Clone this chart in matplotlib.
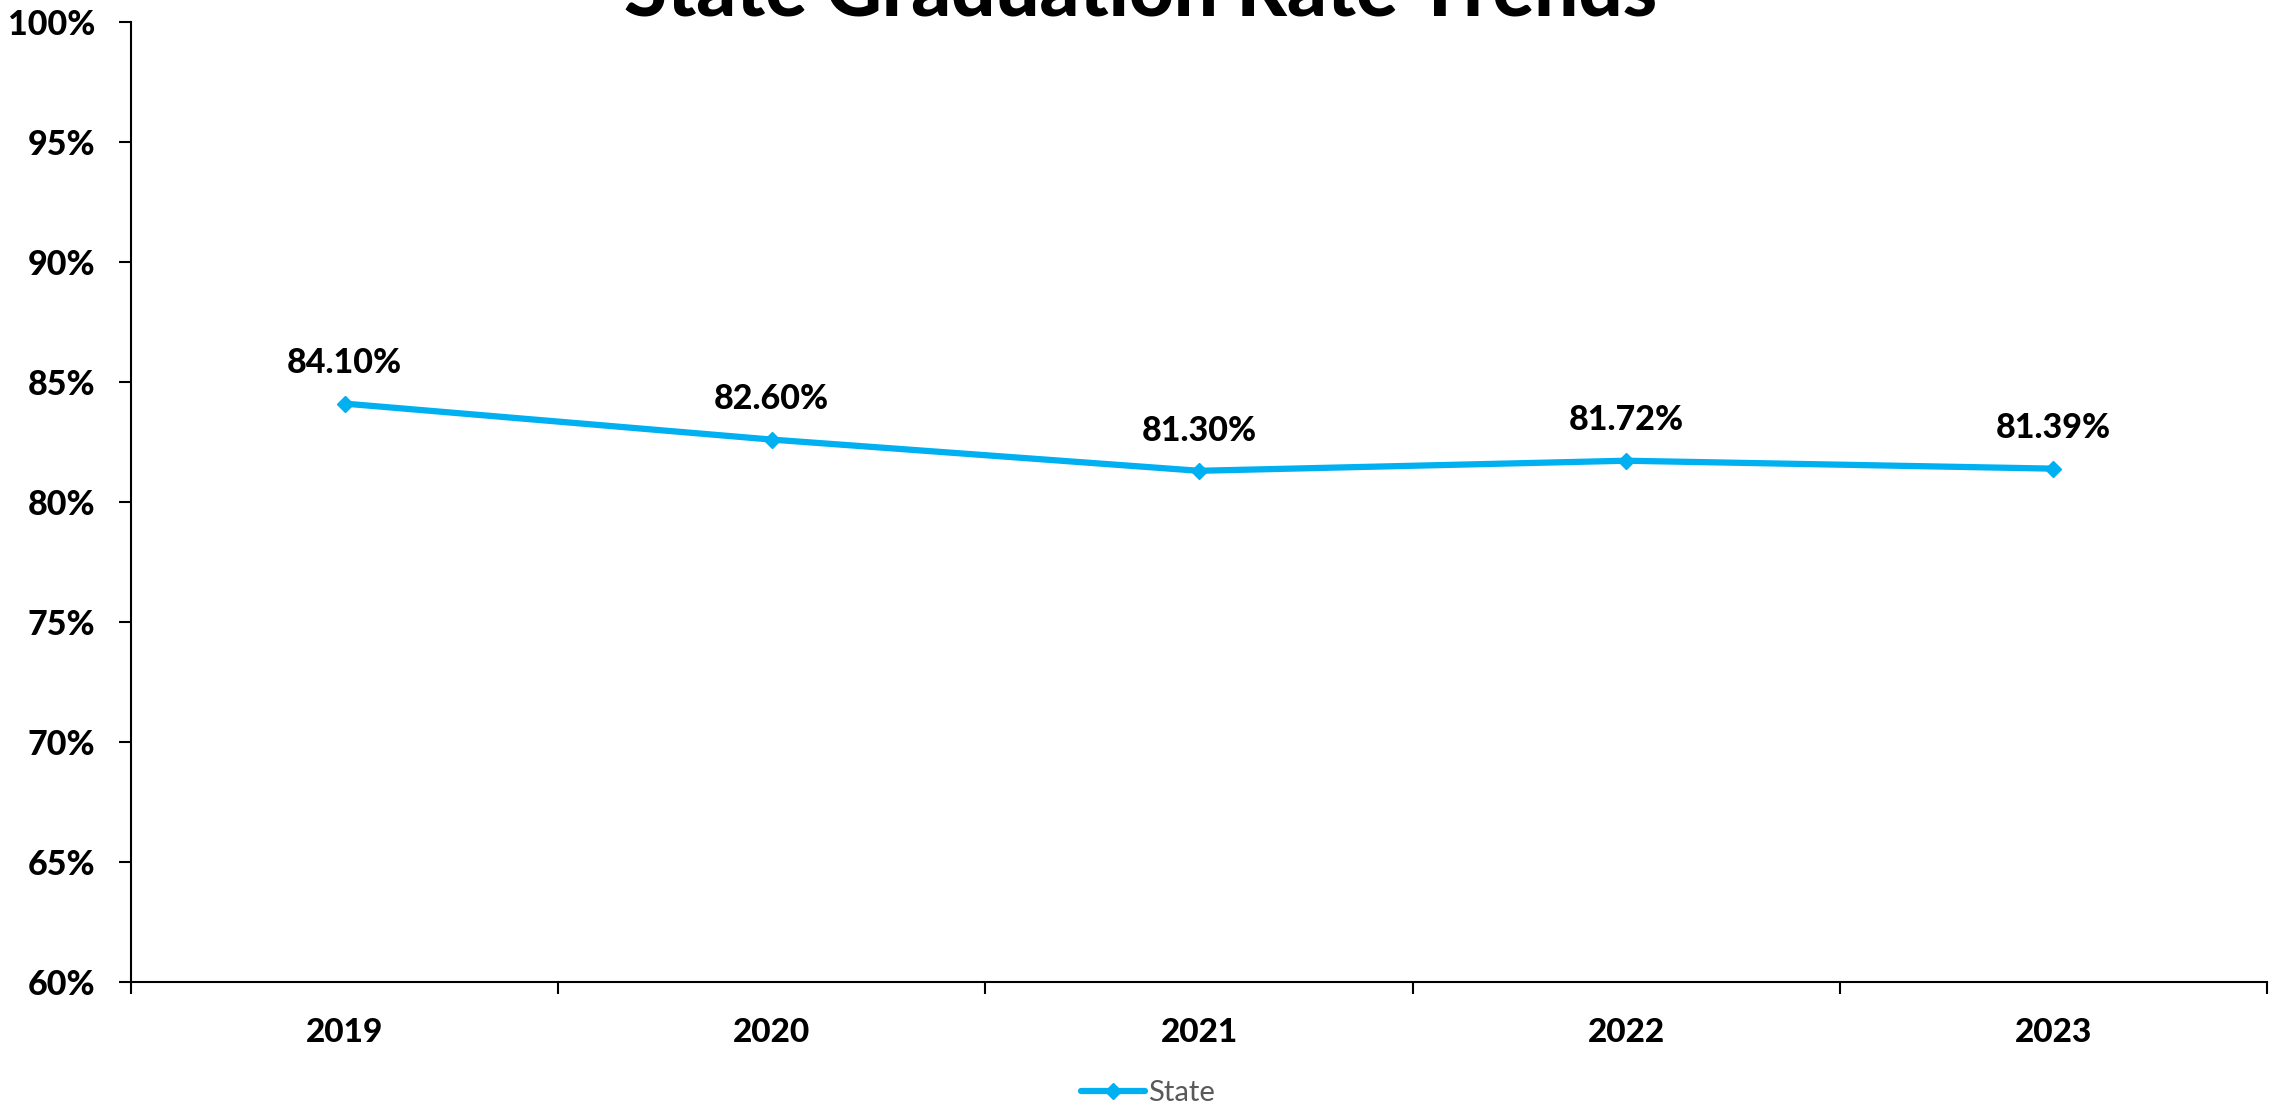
import matplotlib.pyplot as plt
from matplotlib.ticker import FixedLocator, FuncFormatter

years = ["2019", "2020", "2021", "2022", "2023"]
rates = [84.10, 82.60, 81.30, 81.72, 81.39]
rate_labels = ["84.10%", "82.60%", "81.30%", "81.72%", "81.39%"]
y_ticks = [60, 65, 70, 75, 80, 85, 90, 95, 100]

plt.rcParams['font.family'] = ['Lato', 'DejaVu Sans']

fig = plt.figure(figsize=(22.79, 11.12), dpi=100)
ax = fig.add_axes([131 / 2279, 1 - 982 / 1112, (2267 - 131) / 2279, (982 - 22) / 1112])

x = list(range(len(years)))
line, = ax.plot(x, rates, color='#00B0F0', linewidth=4.5, marker='D', markersize=8,
                label='State', solid_capstyle='round')

for xi, v, lab in zip(x, rates, rate_labels):
    ax.annotate(lab, (xi, v), xytext=(0, 29), textcoords='offset points',
                ha='center', va='center', fontsize=24.5, fontweight='black')

ax.set_xlim(-0.5, len(years) - 0.5)
ax.set_ylim(60, 100)
ax.set_yticks(y_ticks)
ax.yaxis.set_major_formatter(FuncFormatter(lambda v, p: f"{v:.0f}%"))
ax.xaxis.set_major_locator(FixedLocator([i - 0.5 for i in range(len(years) + 1)]))
ax.xaxis.set_minor_locator(FixedLocator(x))
ax.set_xticklabels([])
ax.set_xticklabels(years, minor=True)
ax.tick_params(axis='x', which='major', direction='out', length=8.6, width=1.5)
ax.tick_params(axis='x', which='minor', length=0, pad=26, labelsize=24)
ax.tick_params(axis='y', direction='out', length=8.6, width=1.5, pad=17, labelsize=24.5)
for lab in ax.get_xticklabels(minor=True) + ax.get_yticklabels():
    lab.set_fontweight('black')

for s in ['top', 'right']:
    ax.spines[s].set_visible(False)
ax.spines['left'].set_linewidth(1.5)
ax.spines['bottom'].set_linewidth(1.5)

fig.text(1141 / 2279, 1 - 15 / 1112, "State Graduation Rate Trends", ha='center', va='baseline',
         fontsize=56, fontweight='black')

leg = fig.legend(handles=[line], loc='center', bbox_to_anchor=(1148 / 2279, 1 - 1093 / 1112),
                 frameon=False, fontsize=21, handlelength=2.2, handletextpad=0.1)
for t in leg.get_texts():
    t.set_color('#595959')

fig.savefig('out.png', dpi=100)
